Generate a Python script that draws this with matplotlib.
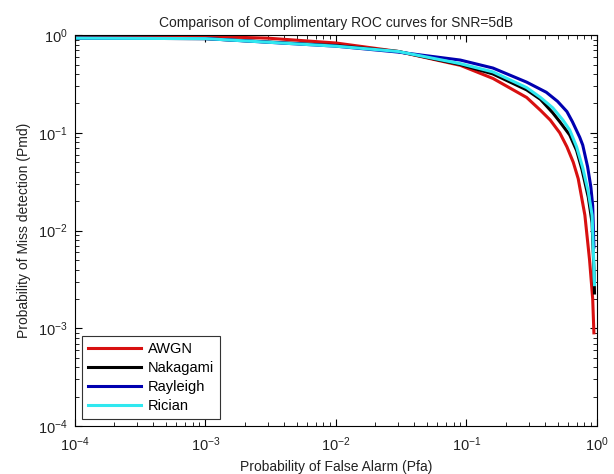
import numpy as np
import matplotlib
matplotlib.use("Agg")
import matplotlib.pyplot as plt

plt.rcParams['font.family'] = ['Liberation Sans', 'DejaVu Sans']

# values (Pfa, Pmd)
pfa_awgn = [1e-4, 3e-4, 1e-3, 3e-3, 1e-2, 3e-2, 0.09, 0.16, 0.29, 0.37, 0.44, 0.52, 0.59,
            0.66, 0.72, 0.81, 0.88, 0.93, 0.95]
pmd_awgn = [0.94, 0.96, 0.97, 0.93, 0.83, 0.68, 0.49, 0.36, 0.23, 0.17, 0.135, 0.1, 0.072,
            0.05, 0.034, 0.0144, 0.005, 0.002, 0.0009]

pfa_naka = [1e-4, 1e-3, 1e-2, 3e-2, 0.09, 0.16, 0.29, 0.37, 0.46, 0.52, 0.62, 0.70, 0.77,
            0.86, 0.92, 0.95, 0.96]
pmd_naka = [0.93, 0.92, 0.78, 0.68, 0.5, 0.4, 0.275, 0.22, 0.16, 0.13, 0.095, 0.066, 0.042,
            0.022, 0.012, 0.004, 0.0023]

pfa_rayl = [1e-4, 1e-3, 1e-2, 3e-2, 0.09, 0.16, 0.29, 0.41, 0.5, 0.59, 0.65, 0.74, 0.78,
            0.85, 0.9, 0.93, 0.95]
pmd_rayl = [0.93, 0.92, 0.77, 0.67, 0.555, 0.46, 0.33, 0.26, 0.21, 0.165, 0.13, 0.09, 0.075,
            0.045, 0.028, 0.018, 0.0068]

pfa_rice = [1e-4, 1e-3, 1e-2, 3e-2, 0.09, 0.16, 0.29, 0.37, 0.46, 0.55, 0.62, 0.70, 0.78,
            0.86, 0.92, 0.95, 0.96]
pmd_rice = [0.93, 0.92, 0.77, 0.68, 0.51, 0.42, 0.29, 0.23, 0.18, 0.135, 0.107, 0.072, 0.044,
            0.025, 0.0144, 0.0044, 0.0028]

fig = plt.figure(figsize=(6.14, 4.74), dpi=100)
ax = fig.add_axes([0.122, 0.101, 0.850, 0.825])

ax.loglog(pfa_awgn, pmd_awgn, color='#d81010', lw=2.2, label='AWGN')
ax.loglog(pfa_naka, pmd_naka, color='black', lw=2.2, label='Nakagami')
ax.loglog(pfa_rayl, pmd_rayl, color='#0000b0', lw=2.2, label='Rayleigh')
ax.loglog(pfa_rice, pmd_rice, color='#30e8f0', lw=2.2, label='Rician')

ax.set_xlim(1e-4, 1)
ax.set_ylim(1e-4, 1)
ax.tick_params(which='both', direction='in', top=True, right=True, labelsize=10.5,
               labelcolor='#222222')
ax.tick_params(which='major', length=5)
ax.tick_params(which='minor', length=3)
ax.tick_params(axis='x', pad=7)
ax.tick_params(axis='y', pad=5)

ax.set_title('Comparison of Complimentary ROC curves for SNR=5dB', fontsize=10, color='#222222')
ax.set_xlabel('Probability of False Alarm (Pfa)', fontsize=10, labelpad=4, color='#222222')
ax.set_ylabel('Probability of Miss detection (Pmd)', fontsize=10, labelpad=5, color='#222222')

leg = ax.legend(loc='lower left', fancybox=False, framealpha=1, edgecolor='#333333',
                handlelength=3.6, handletextpad=0.5, fontsize=10.5, borderaxespad=0.5,
                labelspacing=0.35)
leg.get_frame().set_linewidth(0.8)

fig.savefig('out.png', dpi=100)
